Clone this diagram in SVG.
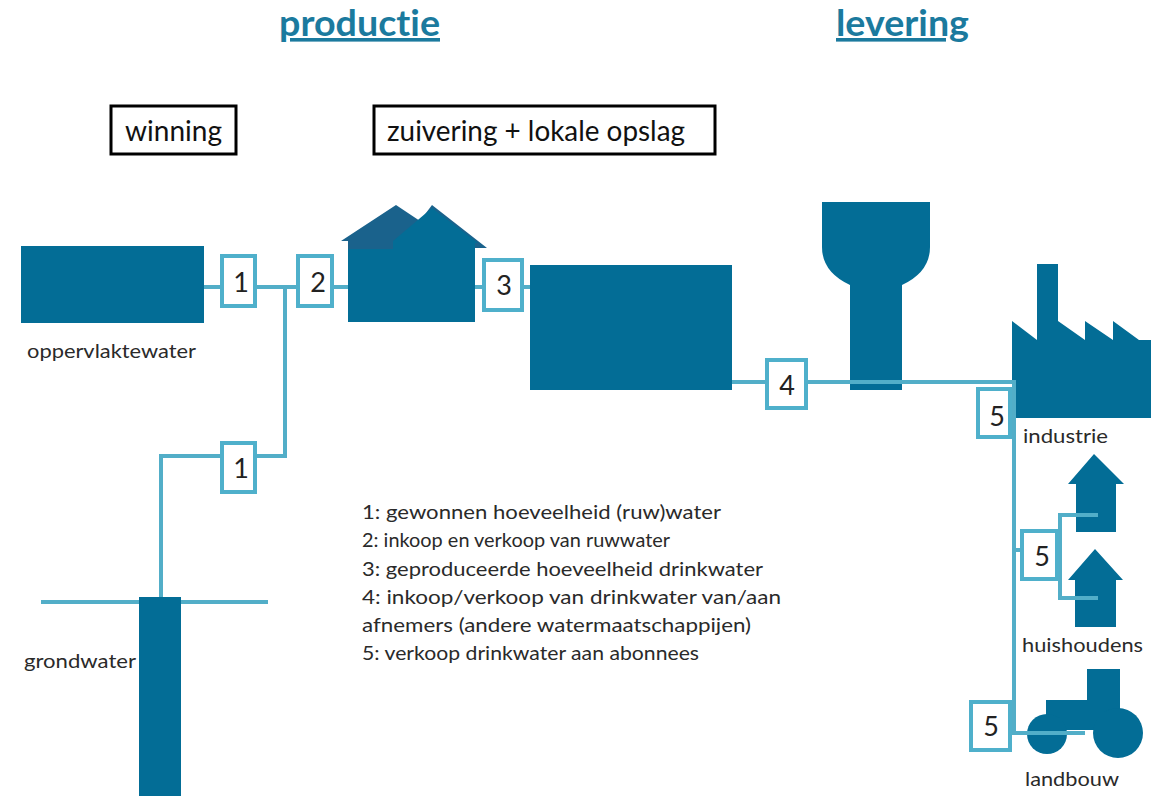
<svg xmlns="http://www.w3.org/2000/svg" width="1163" height="796" viewBox="0 0 1163 796">
<style>
text{font-family:Lato,"Liberation Sans",sans-serif;fill:#2a2a2a;font-variant-ligatures:none}
.s{fill:#036d96}
.r{fill:#1a628c}
.c{fill:none;stroke:#52aec8;stroke-width:4}
.b{fill:#fff;stroke:#4fb0cb;stroke-width:4}
.n{font-size:27px;text-anchor:middle;fill:#222}
.l{font-size:20px}
.t{font-size:36px;font-weight:700;fill:#1b7a9e;text-decoration:underline}
.h{fill:#fff;stroke:#000;stroke-width:3}
.hl{font-size:28px;fill:#111}
</style>
<rect width="1163" height="796" fill="#fff"/>
<g id="titles">
<text class="t" x="279" y="36" textLength="161" lengthAdjust="spacingAndGlyphs">productie</text>
<text class="t" x="836" y="36" textLength="133" lengthAdjust="spacingAndGlyphs">levering</text>
</g>
<g id="winning"><rect class="h" x="111" y="106" width="125" height="48"/><text class="hl" x="125" y="141" textLength="97" lengthAdjust="spacingAndGlyphs">winning</text></g>
<g id="zuivering"><rect class="h" x="374" y="106" width="341" height="48"/><text class="hl" x="387" y="141" textLength="298" lengthAdjust="spacingAndGlyphs">zuivering + lokale opslag</text></g>
<g id="oppervlaktewater"><rect class="s" x="21" y="246" width="183" height="77"/><text class="l" x="27" y="358" textLength="169" lengthAdjust="spacingAndGlyphs">oppervlaktewater</text></g>
<g id="zuivering-gebouw">
<path class="r" d="M341 241L396 205L420 221L432 205L487 248H475V252H348V241Z"/>
<path class="s" d="M393 241L432 208L478 243H475V322H348V249H393Z"/>
</g>
<g id="opslag"><rect class="s" x="530" y="265" width="202" height="125"/></g>
<g id="watertoren"><path class="s" d="M822 202H930V247Q930 272 902 285V390H850V285Q822 272 822 247Z"/></g>
<g id="industrie"><path class="s" d="M1012 321L1037 340V264H1058V321L1085 340V321L1113 340V321L1139 340H1151V418H1012Z"/><text class="l" x="1023" y="443" textLength="85" lengthAdjust="spacingAndGlyphs">industrie</text></g>
<g id="huishouden-1"><path class="s" d="M1094 454L1124 484H1116V532H1076V484H1068Z"/></g>
<g id="huishouden-2"><path class="s" d="M1095 549L1123 580H1116V627H1075V580H1068Z"/></g>
<g id="huishoudens"><text class="l" x="1022" y="652" textLength="121" lengthAdjust="spacingAndGlyphs">huishoudens</text></g>
<g id="landbouw"><path class="s" d="M1087 669H1120V710H1087ZM1046 700H1120V730H1046Z"/><circle class="s" cx="1047" cy="734" r="20"/><circle class="s" cx="1118" cy="733" r="25"/><text class="l" x="1025" y="786" textLength="94" lengthAdjust="spacingAndGlyphs">landbouw</text></g>
<g id="connectors">
<path class="c" d="M41 602H268"/>
<path class="c" d="M204 287H348M285 287V456H161V600M475 287H530M732 382H1014V733H1085M1014 550H1022M1098 515H1060V598H1098"/>
</g>
<g id="grondwater"><rect class="s" x="139" y="597" width="42" height="199"/><text class="l" x="24" y="668" textLength="112" lengthAdjust="spacingAndGlyphs">grondwater</text></g>
<g id="meetpunten">
<g id="m1a"><rect class="b" x="222" y="256" width="33" height="50"/><text class="n" x="241" y="292">1</text></g>
<g id="m2"><rect class="b" x="298" y="256" width="34" height="50"/><text class="n" x="318" y="292">2</text></g>
<g id="m3"><rect class="b" x="484" y="260" width="38" height="50"/><text class="n" x="504" y="295">3</text></g>
<g id="m1b"><rect class="b" x="222" y="443" width="33" height="49"/><text class="n" x="241" y="478">1</text></g>
<g id="m4"><rect class="b" x="767" y="360" width="39" height="48"/><text class="n" x="787" y="395">4</text></g>
<g id="m5a"><rect class="b" x="978" y="389" width="32" height="48"/><text class="n" x="997" y="426">5</text></g>
<g id="m5b"><rect class="b" x="1022" y="531" width="35" height="48"/><text class="n" x="1042" y="566">5</text></g>
<g id="m5c"><rect class="b" x="971" y="702" width="39" height="48"/><text class="n" x="991" y="736">5</text></g>
</g>
<g id="legenda">
<text class="l" x="362" y="519" textLength="359" lengthAdjust="spacingAndGlyphs">1: gewonnen hoeveelheid (ruw)water</text>
<text class="l" x="362" y="547" textLength="308" lengthAdjust="spacingAndGlyphs">2: inkoop en verkoop van ruwwater</text>
<text class="l" x="362" y="576" textLength="401" lengthAdjust="spacingAndGlyphs">3: geproduceerde hoeveelheid drinkwater</text>
<text class="l" x="362" y="604" textLength="419" lengthAdjust="spacingAndGlyphs">4: inkoop/verkoop van drinkwater van/aan</text>
<text class="l" x="362" y="632" textLength="389" lengthAdjust="spacingAndGlyphs">afnemers (andere watermaatschappijen)</text>
<text class="l" x="362" y="660" textLength="337" lengthAdjust="spacingAndGlyphs">5: verkoop drinkwater aan abonnees</text>
</g>
</svg>
